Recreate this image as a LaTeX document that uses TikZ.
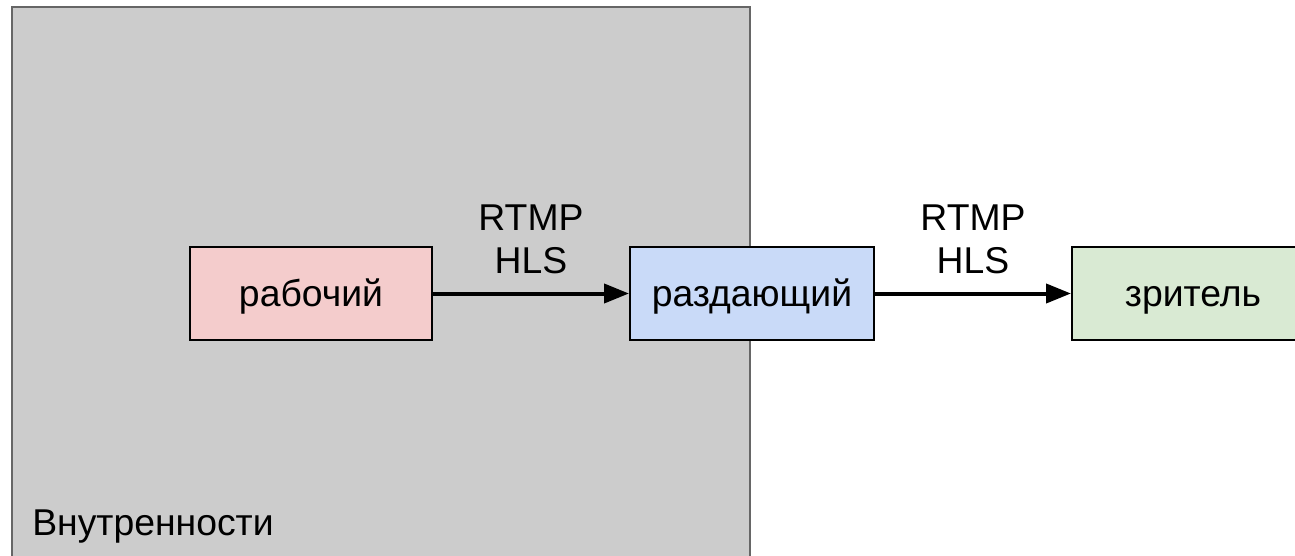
\documentclass[tikz,border=0pt]{standalone}
\usepackage{fontspec}
\setmainfont{Liberation Sans}
\usetikzlibrary{
  arrows.meta,
  positioning
}
\definecolor{cinza}{HTML}{CCCCCC}
\definecolor{borda}{HTML}{666666}
\definecolor{rosa}{HTML}{F4CCCC}
\definecolor{azul}{HTML}{C9DAF8}
\definecolor{verde}{HTML}{D9EAD3}

\begin{document}
\begin{tikzpicture}[x=0.75pt, y=-0.75pt,
    caixa/.style={draw=black, line width=1.5pt, minimum width=181.5pt,
      minimum height=69.75pt, inner sep=0pt, text height=20pt, text depth=0pt,
      font=\fontsize{28}{33}\selectfont},
    seta/.style={-{Triangle[length=18.75pt,width=14.25pt]}, line width=3pt},
    rotulo/.style={align=center, inner sep=0pt, font=\fontsize{28}{32.25}\selectfont},
    node distance=147pt]
        \useasboundingbox (0,0) rectangle (1295,556);

        % Desenha a area cinza
        \draw[fill=cinza, draw=borda, line width=1.5pt] (12,7) rectangle (750,570);
        \node[anchor=base west, inner sep=0pt, font=\fontsize{28}{33}\selectfont]
            (interno) at (32,535) {Внутренности};

        % Adiciona as caixas
        \node[caixa, fill=rosa] (trab) at (311,293.5) {рабочий};
        \node[caixa, fill=azul, minimum width=183pt, right=of trab] (dist) {раздающий};
        \node[caixa, fill=verde, right=of dist] (espect) {зритель};

        % Desenha as setas
        \draw[seta] (trab) -- (dist) node[midway, above=13pt, rotulo] {RTMP\\HLS};
        \draw[seta] (dist) -- (espect) node[midway, above=13pt, rotulo] {RTMP\\HLS};
    \end{tikzpicture}
\end{document}
